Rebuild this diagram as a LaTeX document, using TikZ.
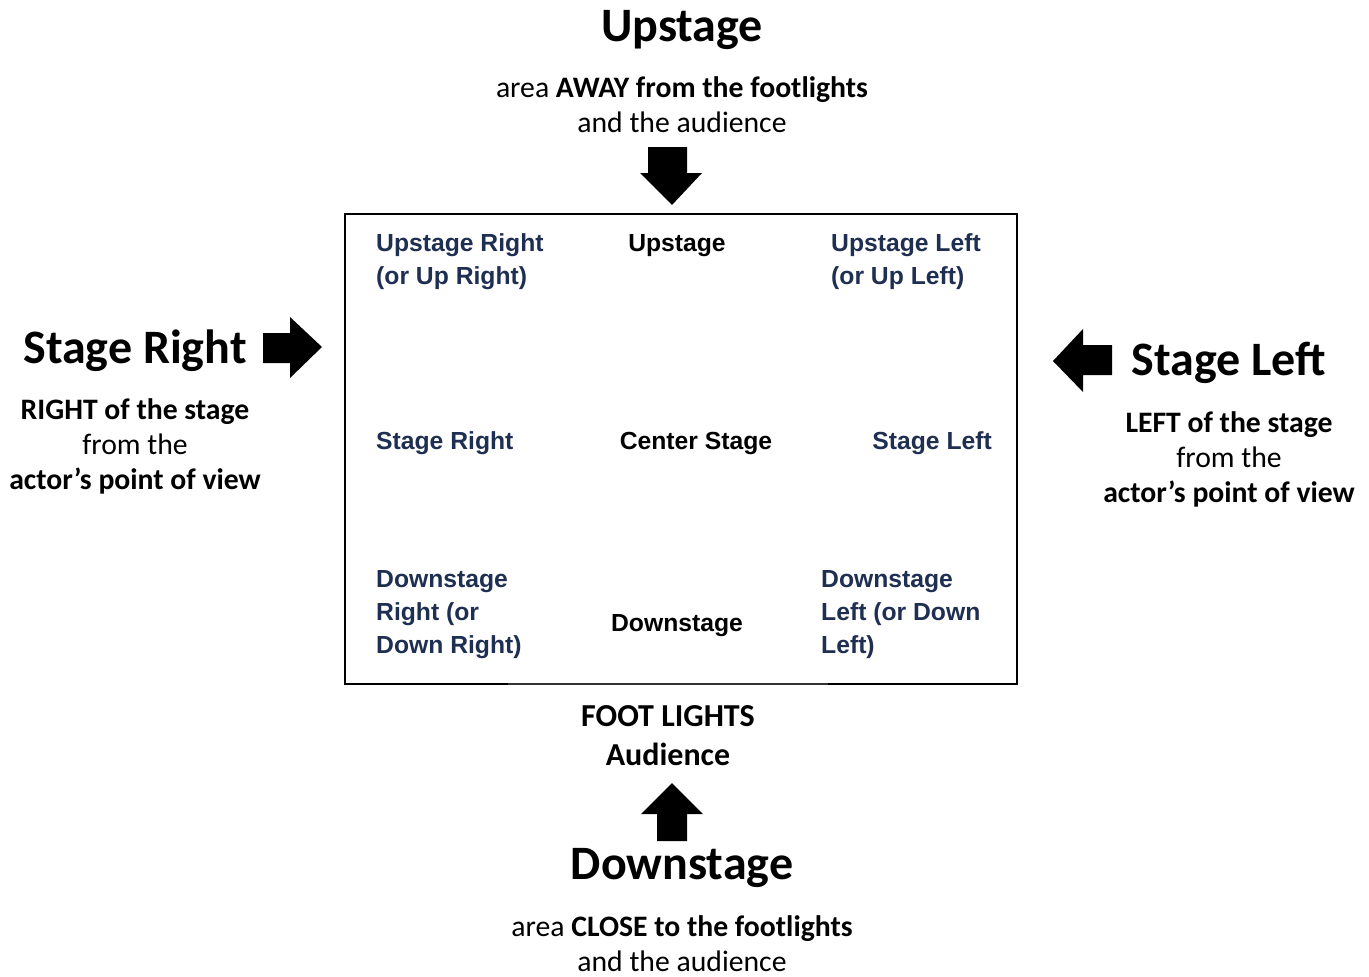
\documentclass[tikz,border=0pt]{standalone}
\usepackage{fontspec}
\setmainfont{Carlito}
\newfontfamily\arialf{Liberation Sans}
\definecolor{navy}{HTML}{1F2F52}
\begin{document}
\begin{tikzpicture}[x=1pt,y=-1pt,
  title/.style={font=\fontsize{48}{56}\selectfont\bfseries, inner sep=0pt, anchor=center},
  sub/.style={font=\fontsize{29.7}{35}\selectfont, inner sep=0pt, align=center, anchor=center},
  inlab/.style={font=\arialf\bfseries\fontsize{24.7}{33}\selectfont, text=navy, inner sep=0pt, align=left},
  inblack/.style={font=\arialf\bfseries\fontsize{24.7}{33}\selectfont, text=black, inner sep=0pt},
  blockarrow/.style={fill=black, draw=none}]
\useasboundingbox (0,0) rectangle (1369,977);
\fill[white] (0,0) rectangle (1369,977);

% stage box
\coordinate (tl) at (345,214);
\coordinate (tr) at (1017,214);
\coordinate (br) at (1017,684);
\coordinate (bl) at (345,684);
\coordinate (g1) at (508,684);
\coordinate (g2) at (828,684);
\draw[line width=2pt, line join=miter] (g1) -- (bl) -- (tl) -- (tr) -- (br) -- (g2);
\draw[line width=1.2pt, black!80] (g1) -- (g2);

% outer titles
\node[title] (up) at (682,30) {Upstage};
\node[sub] (upsub) at (682,105) {area \textbf{AWAY from the footlights}\\and the audience};

\node[title] (sr) at (135,351) {Stage Right};
\node[sub] (srsub) at (135,446) {\textbf{RIGHT of the stage}\\from the\\\textbf{actor’s point of view}};

\node[title] (sl) at (1229,363) {Stage Left};
\node[sub] (slsub) at (1229,459) {\textbf{LEFT of the stage}\\from the\\\textbf{actor’s point of view}};

\node[sub, font=\fontsize{32}{39}\selectfont\bfseries] (foot) at (668,736) {FOOT LIGHTS\\Audience};

\node[title] (down) at (682,868) {Downstage};
\node[sub] (downsub) at (682,944) {area \textbf{CLOSE to the footlights}\\and the audience};

% block arrows
\fill[blockarrow] (648,147) -- (687,147) -- (687,173) -- (702,173) -- (672,205) -- (640,173) -- (648,173) -- cycle;
\fill[blockarrow] (657,841) -- (687,841) -- (687,814) -- (703,814) -- (672,783) -- (641,814) -- (657,814) -- cycle;
\fill[blockarrow] (263,333) -- (290,333) -- (290,317) -- (322,347) -- (290,378) -- (290,363) -- (263,363) -- cycle;
\fill[blockarrow] (1112,345) -- (1083,345) -- (1083,329) -- (1053,361) -- (1083,392) -- (1083,375) -- (1112,375) -- cycle;

% inner labels
\node[inlab, anchor=west] (usr) at (376,261.5) {Upstage Right\\(or Up Right)};
\node[inblack] (usc) at (677,246) {Upstage};
\node[inlab, anchor=west] (usl) at (831,261.5) {Upstage Left\\(or Up Left)};
\node[inlab, anchor=west] (csr) at (376,443) {Stage Right};
\node[inblack] (cc) at (696,443) {Center Stage};
\node[inlab, anchor=east] (csl) at (992,443) {Stage Left};
\node[inlab, anchor=west] (dsr) at (376,615) {Downstage\\Right (or\\Down Right)};
\node[inblack] (dsc) at (677,626) {Downstage};
\node[inlab, anchor=west] (dsl) at (821,615) {Downstage\\Left (or Down\\Left)};
\end{tikzpicture}
\end{document}
